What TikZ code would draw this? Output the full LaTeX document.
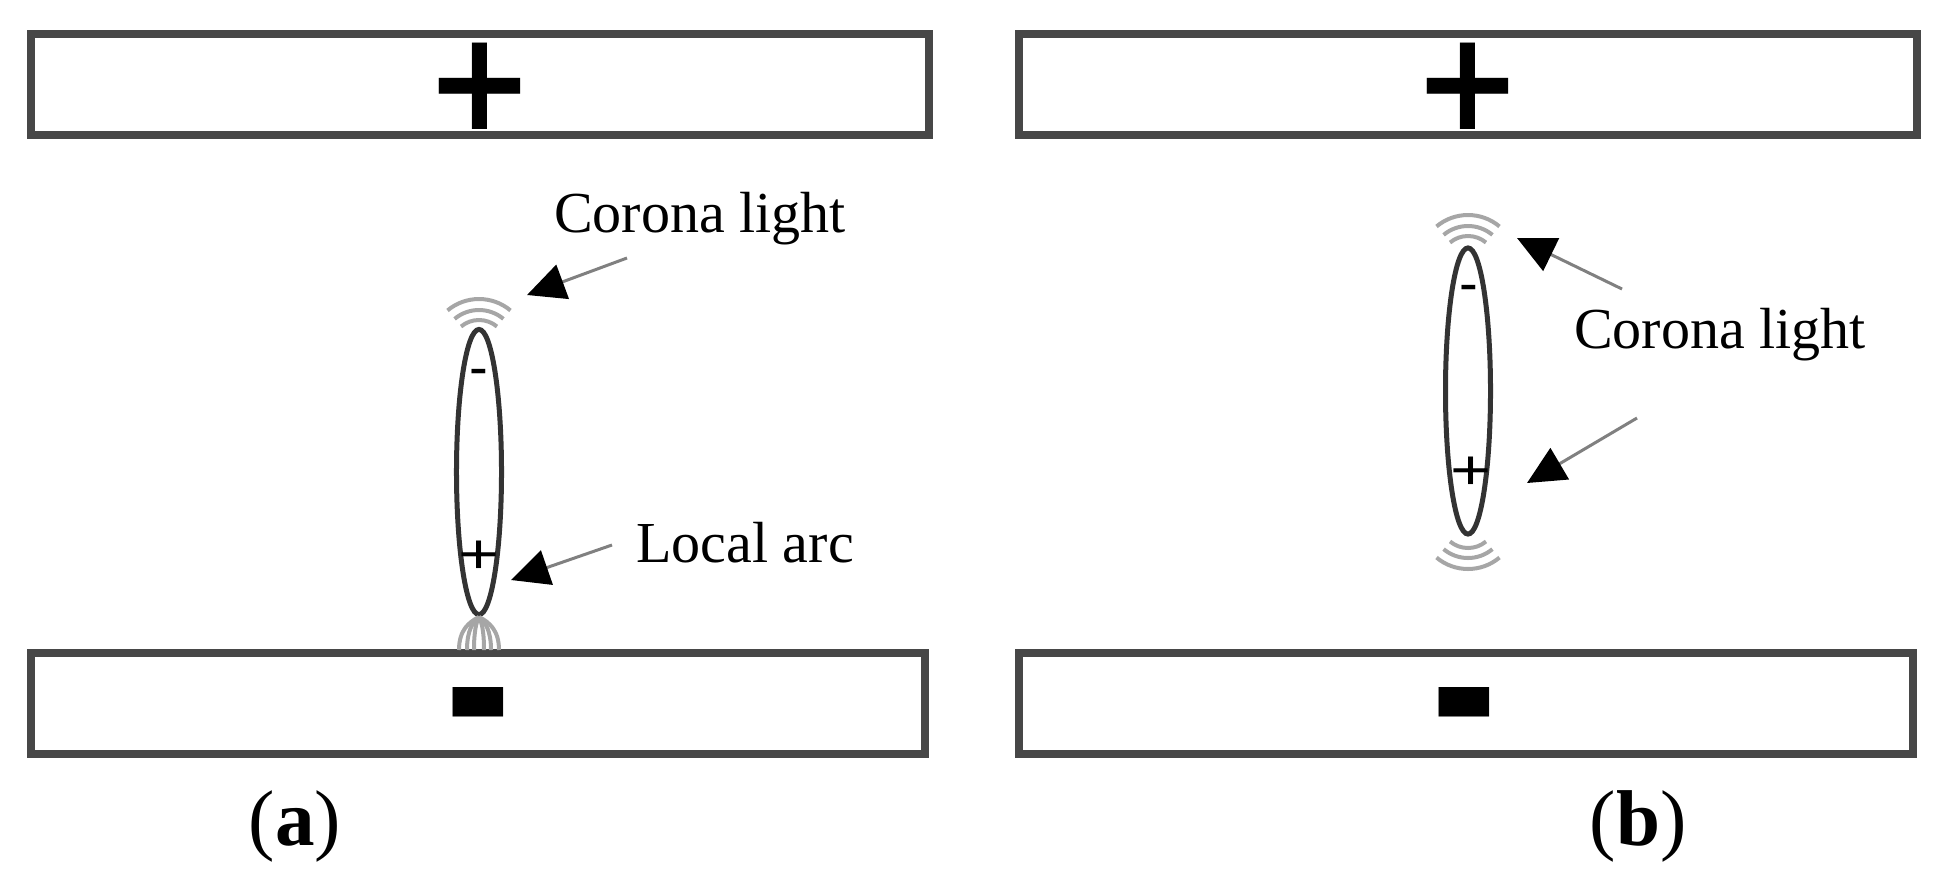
\documentclass[tikz,border=0pt]{standalone}
\usepackage{fontspec}
\setmainfont{Liberation Serif}
\newfontfamily\signfont{DejaVu Sans}
\newfontfamily\smallsign{Liberation Sans}
\usetikzlibrary{arrows.meta, shapes.geometric}
\tikzset{
    plate/.style={draw=black!72, line width=0.08cm, fill=white, minimum height=1.01cm, inner sep=0pt},
    droplet/.style={ellipse, draw=black!80, line width=0.05cm, minimum width=0.45cm, inner sep=0pt},
    coronaarc/.style={draw=black!35, line width=0.04cm},
    leader/.style={->, draw=black!50, line width=0.03cm},
    callout/.style={font=\fontsize{16.5}{18}\selectfont, anchor=base, inner sep=0pt},
    panel/.style={font=\fontsize{22.5}{22}\selectfont, anchor=base, inner sep=0pt}
}
\begin{document}
\begin{tikzpicture}[x=0.01cm, y=-0.01cm, >={Triangle[length=0.38cm, width=0.36cm, color=black]}]
    \useasboundingbox (0,0) rectangle (1939,881);

    % -------------------------------------------------------
    % 1. Plates
    % -------------------------------------------------------
    \node[plate, minimum width=8.98cm] (platepa) at (480,84.5) {};
    \node[plate, minimum width=8.94cm] (platena) at (478,703.5) {};
    \node[plate, minimum width=8.98cm] (platepb) at (1468,84.5) {};
    \node[plate, minimum width=8.94cm] (platenb) at (1466,703.5) {};

    % Signs on the plates
    \foreach \name/\xpos in {pa/480, pb/1467.5} {
        \node[font=\fontsize{28}{28}\selectfont\signfont\bfseries, inner sep=0pt] (sign\name) at (\xpos,86) {\scalebox{1.32}[1.40]{+}};
    }
    \foreach \name/\xpos in {na/478.5, nb/1464.5} {
        \node[font=\fontsize{28}{28}\selectfont\signfont\bfseries, inner sep=0pt] (sign\name) at (\xpos,735) {\scalebox{0.82}[2.6]{−}};
    }

    % -------------------------------------------------------
    % 2. Droplets
    % -------------------------------------------------------
    \node[droplet, minimum height=2.85cm] (dropa) at (479,472) {};
    \node[droplet, minimum height=2.86cm] (dropb) at (1468,391) {};

    \node[font=\fontsize{16}{16}\selectfont\smallsign, inner sep=0pt, anchor=base] (minusa) at (479,386) {-};
    \node[font=\fontsize{20}{20}\selectfont\smallsign, inner sep=0pt, anchor=base] (plusa) at (479,573) {\scalebox{1}[0.8]{+}};
    \node[font=\fontsize{16}{16}\selectfont\smallsign, inner sep=0pt, anchor=base] (minusb) at (1469,302) {-};
    \node[font=\fontsize{20}{20}\selectfont\smallsign, inner sep=0pt, anchor=base] (plusb) at (1471,489) {\scalebox{1}[0.8]{+}};

    % -------------------------------------------------------
    % 3. Corona arcs
    % -------------------------------------------------------
    \coordinate (coronaa) at (479,348);
    \coordinate (coronab) at (1468,264);
    \coordinate (coronac) at (1468,520);
    \foreach \r in {28,38,49} {
        \draw[coronaarc] (coronaa) ++(230:\r) arc[start angle=230, end angle=310, radius=\r];
        \draw[coronaarc] (coronab) ++(230:\r) arc[start angle=230, end angle=310, radius=\r];
        \draw[coronaarc] (coronac) ++(50:\r) arc[start angle=50, end angle=130, radius=\r];
    }
    % Discharge channel down to the lower plate
    \coordinate (foota) at (479,617);
    \foreach \dx in {5,12,20} {
        \draw[coronaarc] (479-\dx,650) .. controls (479-\dx,630) and (479-\dx/2,622) .. (foota);
        \draw[coronaarc] (479+\dx,650) .. controls (479+\dx,630) and (479+\dx/2,622) .. (foota);
    }

    % -------------------------------------------------------
    % 4. Labels and arrows
    % -------------------------------------------------------
    \node[callout] (coronalabela) at (700,232) {Corona light};
    \node[callout] (arclabel) at (745,562) {Local arc};
    \node[callout] (coronalabelb) at (1720,348) {Corona light};

    \coordinate (taila) at (627,258);
    \coordinate (tipa) at (527,295);
    \coordinate (tailb) at (612,545);
    \coordinate (tipb) at (511,580);
    \coordinate (tailc) at (1622,289);
    \coordinate (tipc) at (1517,238);
    \coordinate (taild) at (1637,418);
    \coordinate (tipd) at (1527,483);
    \draw[leader] (taila) -- (tipa);
    \draw[leader] (tailb) -- (tipb);
    \draw[leader] (tailc) -- (tipc);
    \draw[leader] (taild) -- (tipd);

    \node[panel] (capa) at (295,845) {(\textbf{a})};
    \node[panel] (capb) at (1638,845) {(\textbf{b})};
\end{tikzpicture}
\end{document}
